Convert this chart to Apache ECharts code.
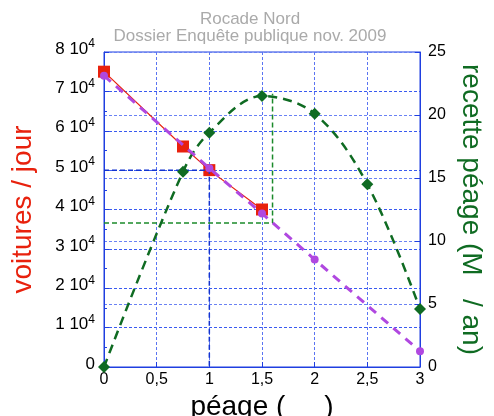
<!DOCTYPE html>
<html>
<head>
<meta charset="utf-8">
<script src="https://cdn.jsdelivr.net/npm/echarts@6/dist/echarts.min.js"></script>
<style>
    html, body { margin: 0; padding: 0; background: #fff; }
    #rocadeChart { width: 494px; height: 416px; }
</style>
</head>
<body>
<div id="rocadeChart"></div>
<script>
// voitures / jour (carrés rouges)
var trafficPrice = [0, 0.75, 1, 1.5];
var trafficCars = [75000, 56000, 50000, 40000];
// modèle linéaire (violet)
var modelPrice = [0, 1, 1.5, 2, 3];
var modelCars = [74000, 50500, 39000, 27300, 4000];
// recette péage (M / an)
var revenuePrice = [0, 0.75, 1, 1.5, 2, 2.5, 3];
var revenueValues = [0, 15.5, 18.6, 21.5, 20.1, 14.5, 4.6];
// repères
var optimumGuide = [[0, 36600], [1.6, 36600], [1.6, 69400]];
var refGuide = [[0, 50000], [1, 50000], [1, 0]];
var xTicks = [0, 0.5, 1, 1.5, 2, 2.5, 3];

var rocadeChart = echarts.init(document.getElementById('rocadeChart'));

var zip = (xs, ys) => xs.map((x, i) => [x, ys[i]]);

var fontName = '"Liberation Sans", Arial, sans-serif';

var option = {
    animation: false,
    textStyle: { fontFamily: fontName },
    title: {
        text: 'Rocade Nord\nDossier Enquête publique nov. 2009',
        left: 245,
        textAlign: 'center',
        top: 6,
        textStyle: {
            color: '#aaaaaa',
            fontSize: 17,
            fontWeight: 'normal',
            lineHeight: 17,
            fontFamily: fontName
        }
    },
    grid: {
        left: 104,
        right: 74,
        top: 52,
        bottom: 49,
        containLabel: false,
        outerBoundsMode: 'none',
        show: true,
        borderColor: '#1f3fe0',
        borderWidth: 1
    },
    xAxis: {
        type: 'value',
        min: 0,
        max: 3,
        interval: 0.5,
        name: 'péage (     )',
        nameLocation: 'middle',
        nameGap: 20,
        nameTextStyle: { fontSize: 28, color: '#000' },
        axisLine: { lineStyle: { color: '#1f3fe0' } },
        axisTick: { inside: true, length: 5, lineStyle: { color: '#1f3fe0' } },
        axisLabel: {
            color: '#000',
            fontSize: 16,
            margin: 5,
            formatter: (v) => String(v).replace('.', ',')
        },
        splitLine: { show: true, lineStyle: { color: '#5a74f2', type: [3, 2] } }
    },
    yAxis: [
        {
            type: 'value',
            min: 0,
            max: 80000,
            interval: 10000,
            name: 'voitures / jour',
            nameLocation: 'middle',
            nameGap: 67,
            nameTextStyle: { fontSize: 28, color: '#e8210d' },
            axisLine: { show: true, lineStyle: { color: '#1f3fe0' } },
            axisTick: { inside: true, length: 5, lineStyle: { color: '#1f3fe0' } },
            minorTick: { show: true, splitNumber: 2, length: 3, lineStyle: { color: '#1f3fe0' } },
            axisLabel: {
                color: '#000',
                fontSize: 17,
                margin: 9,
                padding: [0, 0, 6, 0],
                formatter: (v) => v === 0 ? '0' : (v / 10000) + ' 10{sup|4}',
                rich: {
                    sup: { fontSize: 12, verticalAlign: 'bottom', padding: [0, 0, 10, 0], color: '#000' }
                }
            },
            splitLine: { show: true, lineStyle: { color: '#3a5af0', type: [3, 2] } }
        },
        {
            type: 'value',
            min: 0,
            max: 25,
            interval: 5,
            name: 'recette péage (M   / an)',
            nameLocation: 'middle',
            nameGap: 34,
            nameRotate: -90,
            nameTextStyle: { fontSize: 28, color: '#0f6b22' },
            axisLine: { show: true, lineStyle: { color: '#1f3fe0' } },
            axisTick: { inside: true, length: 5, lineStyle: { color: '#1f3fe0' } },
            axisLabel: { color: '#000', fontSize: 16, margin: 8, padding: [0, 0, 6, 0] },
            splitLine: { show: true, lineStyle: { color: '#6a82f4', type: [3, 2] } }
        }
    ],
    series: [
        {
            name: 'repère 1',
            type: 'line',
            yAxisIndex: 0,
            data: refGuide,
            symbol: 'none',
            lineStyle: { color: '#1233d0', width: 1.5, type: [5, 3] }
        },
        {
            name: 'optimum',
            type: 'line',
            yAxisIndex: 0,
            data: optimumGuide,
            symbol: 'none',
            lineStyle: { color: '#1b8a2a', width: 1.5, type: [5, 3] }
        },
        {
            name: 'recette',
            type: 'line',
            yAxisIndex: 1,
            data: zip(revenuePrice, revenueValues),
            smooth: 0.35,
            symbol: 'diamond',
            symbolSize: 12,
            itemStyle: { color: '#0f6b22' },
            lineStyle: { color: '#0f6b22', width: 2.5, type: [9, 6] }
        },
        {
            name: 'modèle',
            type: 'line',
            yAxisIndex: 0,
            data: zip(modelPrice, modelCars),
            symbol: 'circle',
            symbolSize: 8,
            itemStyle: { color: '#b048e0' },
            lineStyle: { color: '#b048e0', width: 3, type: [9, 7] },
            z: 3
        },
        {
            name: 'voitures',
            type: 'line',
            yAxisIndex: 0,
            data: zip(trafficPrice, trafficCars),
            symbol: 'rect',
            symbolSize: 12,
            itemStyle: { color: '#e8210d' },
            lineStyle: { color: '#e8210d', width: 1.2 },
            z: 2
        }
    ]
};

rocadeChart.setOption(option);
</script>
</body>
</html>
